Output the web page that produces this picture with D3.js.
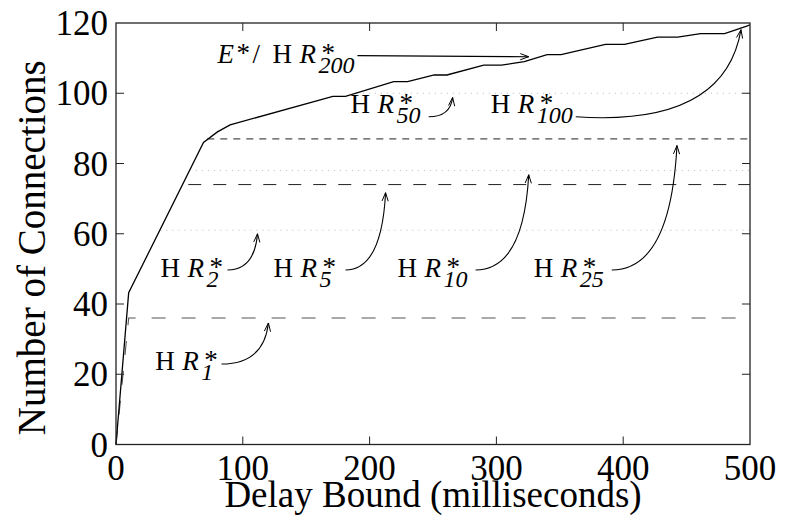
<!DOCTYPE html>
<html>
<head>
<meta charset="utf-8">
<script src="https://cdn.jsdelivr.net/npm/d3@7"></script>
<style>
  body { margin: 0; background: #fff; }
  text { font-family: "Liberation Serif", "Times New Roman", serif; }
</style>
</head>
<body>
<script>
// axis ticks
const xTicks = [0, 100, 200, 300, 400, 500];
const yTicks = [0, 20, 40, 60, 80, 100, 120];

// E* / HR*200 curve (delay bound ms, connections)
const eStarX = [0, 10, 69, 80, 90, 171, 181, 219, 230, 251, 261, 290, 304, 322, 340, 351, 386, 401, 427, 443, 461, 480, 498, 500];
const eStarY = [0, 43.2, 86, 89, 91, 99.1, 99.1, 103.3, 103.3, 105.2, 105.2, 108, 108, 109, 111, 111, 113.9, 113.9, 116, 116, 117, 117, 119.2, 119.5];

// HR*_k capped curves: cap level and where the flat part starts
const capNames = ["1", "2", "5", "10", "25", "50"];
const capValues = [36, 61, 74, 78, 87, 100];
const capStartX = [10, 35, 57, 63, 72, 190];

const width = 786, height = 531;
const margin = {top: 23, right: 36, bottom: 86.5, left: 116};

const svg = d3.select("body").append("svg")
  .attr("width", width)
  .attr("height", height);

const x = d3.scaleLinear().domain([0, 500]).range([margin.left, width - margin.right]);
const y = d3.scaleLinear().domain([0, 120]).range([height - margin.bottom, margin.top]);

const line = d3.line().x(d => x(d[0])).y(d => y(d[1]));

// cap lines
const capStyle = {
  "1": {dash: "14,16", color: "#555", w: 1.1},
  "2": {dash: "1,5", color: "#bbb", w: 1},
  "5": {dash: "13,12", color: "#222", w: 1},
  "10": {dash: "1,5", color: "#bbb", w: 1},
  "25": {dash: "7,6", color: "#222", w: 1},
  "50": {dash: "1,5", color: "#bbb", w: 1}
};
capNames.forEach((n, i) => {
  const pts = i === 0
    ? [[0, 0], [capStartX[i], capValues[i]], [500, capValues[i]]]
    : [[capStartX[i], capValues[i]], [500, capValues[i]]];
  const s = capStyle[n];
  svg.append("path")
    .attr("d", line(pts))
    .attr("fill", "none")
    .attr("stroke", s.color)
    .attr("stroke-width", s.w)
    .attr("stroke-dasharray", s.dash);
});

// E* curve
svg.append("path")
  .attr("d", line(eStarX.map((v, i) => [v, eStarY[i]])))
  .attr("fill", "none")
  .attr("stroke", "#000")
  .attr("stroke-width", 1.3);

// frame and ticks (inside on all four sides)
const x0 = x(0), x1 = x(500), y0 = y(0), y1 = y(120);
svg.append("rect")
  .attr("x", x0).attr("y", y1)
  .attr("width", x1 - x0).attr("height", y0 - y1)
  .attr("fill", "none").attr("stroke", "#222").attr("stroke-width", 1.3);

const tl = 8;
xTicks.slice(1, -1).forEach(t => {
  svg.append("line").attr("x1", x(t)).attr("x2", x(t)).attr("y1", y0).attr("y2", y0 - tl).attr("stroke", "#222");
  svg.append("line").attr("x1", x(t)).attr("x2", x(t)).attr("y1", y1).attr("y2", y1 + tl).attr("stroke", "#222");
});
yTicks.slice(1, -1).forEach(t => {
  svg.append("line").attr("x1", x0).attr("x2", x0 + tl).attr("y1", y(t)).attr("y2", y(t)).attr("stroke", "#222");
  svg.append("line").attr("x1", x1).attr("x2", x1 - tl).attr("y1", y(t)).attr("y2", y(t)).attr("stroke", "#222");
});

// tick labels
svg.selectAll(".xt").data(xTicks).enter().append("text")
  .attr("x", d => x(d)).attr("y", y0 + 35)
  .attr("text-anchor", "middle")
  .attr("font-size", 35)
  .text(d => d);
svg.selectAll(".yt").data(yTicks).enter().append("text")
  .attr("x", x0 - 8).attr("y", d => y(d) + 12)
  .attr("text-anchor", "end")
  .attr("font-size", 35)
  .text(d => d);

// axis titles
svg.append("text")
  .attr("x", (x0 + x1) / 2).attr("y", y0 + 62)
  .attr("text-anchor", "middle")
  .attr("font-size", 37)
  .text("Delay Bound (milliseconds)");
svg.append("text")
  .attr("transform", `translate(45,${(y0 + y1) / 2 + 14}) rotate(-90)`)
  .attr("text-anchor", "middle")
  .attr("font-size", 39)
  .text("Number of Connections");

// annotation labels: "H R*_k"
const fs = 27;
function hLabel(px, py, sub) {
  const g = svg.append("g");
  g.append("text").attr("x", px).attr("y", py)
    .attr("font-family", "'Liberation Mono', 'Courier New', monospace")
    .attr("font-size", fs).text("H");
  g.append("text").attr("x", px + 27).attr("y", py)
    .attr("font-style", "italic").attr("font-size", fs).text("R");
  g.append("text").attr("x", px + 49).attr("y", py - 1)
    .attr("font-size", fs).text("*");
  g.append("text").attr("x", px + 46).attr("y", py + 10)
    .attr("font-style", "italic").attr("font-size", 24).text(sub);
}

// label anchors in data units
const labelPos = {
  "1": [31, 21.2], "2": [35, 47.7], "5": [124.2, 47.7], "10": [222, 47.7],
  "25": [329.5, 47.7], "50": [185, 94.5], "100": [295.5, 94.5]
};
Object.keys(labelPos).forEach(k => hLabel(x(labelPos[k][0]), y(labelPos[k][1]), k));

// E*/ H R*200 label
{
  const px = x(80), py = y(108.7);
  svg.append("text").attr("x", px).attr("y", py).attr("font-style", "italic").attr("font-size", fs).text("E");
  svg.append("text").attr("x", px + 19).attr("y", py - 1).attr("font-size", fs).text("*");
  svg.append("text").attr("x", px + 35).attr("y", py).attr("font-size", fs).text("/");
  hLabel(px + 55, py, "200");
}

// arrows: start and tip in data units
const arrows = [
  {s: [83.2, 22.9], t: [120.2, 34.6], dip: 0},
  {s: [87.9, 49.7], t: [111.6, 60], dip: 0},
  {s: [181, 49.7], t: [212.6, 71.7], dip: 0},
  {s: [283.6, 49.7], t: [325.5, 76.8], dip: 0},
  {s: [391, 49.7], t: [442.4, 85.1], dip: 0},
  {s: [246.6, 93.3], t: [265.5, 98.8], dip: 0},
  {s: [362.6, 93.3], t: [492.9, 118.1], dip: 10}
];
function arrowHead(tx, ty, dx, dy) {
  const a = Math.atan2(dy, dx), L = 9, sp = 0.35;
  const p = d3.path();
  p.moveTo(tx - L * Math.cos(a - sp), ty - L * Math.sin(a - sp));
  p.lineTo(tx, ty);
  p.lineTo(tx - L * Math.cos(a + sp), ty - L * Math.sin(a + sp));
  svg.append("path").attr("d", p.toString()).attr("fill", "none").attr("stroke", "#000").attr("stroke-width", 1);
}
arrows.forEach(a => {
  const sx = x(a.s[0]), sy = y(a.s[1]), tx = x(a.t[0]), ty = y(a.t[1]);
  const cx = tx - 0.1 * (tx - sx), cy = sy + a.dip;
  const p = d3.path();
  p.moveTo(sx, sy);
  p.quadraticCurveTo(cx, cy, tx, ty);
  svg.append("path").attr("d", p.toString()).attr("fill", "none").attr("stroke", "#000").attr("stroke-width", 1.1);
  arrowHead(tx, ty, tx - cx, ty - cy);
});
// straight arrow for E*
{
  const sx = x(190.4), sy = y(110.7), tx = x(325.5), ty = y(110.4);
  svg.append("line").attr("x1", sx).attr("y1", sy).attr("x2", tx).attr("y2", ty).attr("stroke", "#000").attr("stroke-width", 1.1);
  arrowHead(tx, ty, tx - sx, ty - sy);
}
</script>
</body>
</html>
